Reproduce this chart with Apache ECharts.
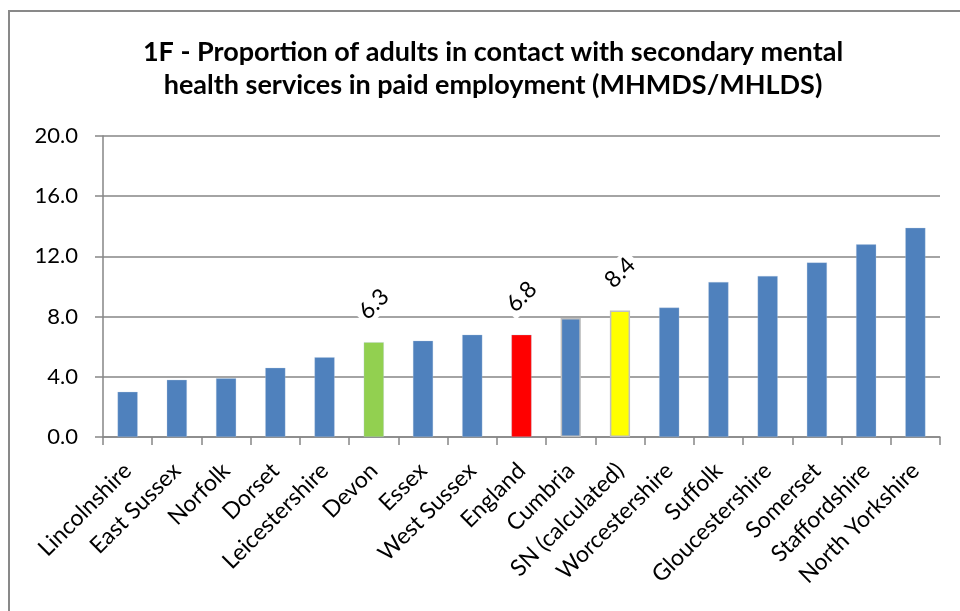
<!DOCTYPE html>
<html>
<head>
<meta charset="utf-8">
<script src="https://cdn.jsdelivr.net/npm/echarts@6/dist/echarts.min.js"></script>
<style>
  html, body { margin: 0; padding: 0; background: #fff; }
  #chart { width: 960px; height: 611px; }
</style>
</head>
<body>
<div id="chart"></div>
<script>
// Areas, ordered by value
const categories = [
  'Lincolnshire', 'East Sussex', 'Norfolk', 'Dorset', 'Leicestershire',
  'Devon', 'Essex', 'West Sussex', 'England', 'Cumbria', 'SN (calculated)',
  'Worcestershire', 'Suffolk', 'Gloucestershire', 'Somerset',
  'Staffordshire', 'North Yorkshire'
];
// Percentage of adults in contact with secondary mental health services in paid employment
const values = [3.0, 3.8, 3.9, 4.6, 5.3, 6.3, 6.4, 6.8, 6.8, 7.9, 8.4, 8.6, 10.3, 10.7, 11.6, 12.8, 13.9];
const yTicks = [0, 4, 8, 12, 16, 20];

const FONT = 'Lato, "Open Sans", sans-serif';
const baseColour = '#4F81BD';
const fillFor = { 'Devon': '#92D050', 'England': '#FF0000', 'SN (calculated)': '#FFFF00' };
const outlined = ['Cumbria', 'SN (calculated)'];
const labelled = ['Devon', 'England', 'SN (calculated)'];

const barData = categories.map((name, i) => {
  const item = {
    value: values[i],
    itemStyle: {
      color: fillFor[name] || baseColour,
      borderColor: outlined.includes(name) ? '#BFBFBF' : 'rgba(185,205,229,0.6)',
      borderWidth: outlined.includes(name) ? 1.5 : 0.5
    }
  };
  if (labelled.includes(name)) {
    item.label = {
      show: true,
      position: 'top',
      distance: 38,
      rotate: 45,
      align: 'center',
      verticalAlign: 'middle',
      formatter: p => p.value.toFixed(1),
      fontFamily: FONT,
      fontSize: 23,
      color: '#000',
      backgroundColor: '#fff',
      padding: [1, 4]
    };
  }
  return item;
});

const chart = echarts.init(document.getElementById('chart'), null, { renderer: 'canvas' });
chart.setOption({
  animation: false,
  backgroundColor: '#fff',
  title: {
    text: '1F - Proportion of adults in contact with secondary mental\nhealth services in paid employment (MHMDS/MHLDS)',
    left: 488,
    top: 31,
    textAlign: 'center',
    textStyle: {
      fontFamily: FONT,
      fontSize: 27,
      fontWeight: 'bold',
      lineHeight: 33,
      color: '#000'
    }
  },
  graphic: [{
    type: 'rect',
    shape: { x: 9, y: 11, width: 1000, height: 700 },
    style: { fill: 'none', stroke: '#898989', lineWidth: 2 },
    silent: true
  }],
  grid: { left: 103, right: 20, top: 136, bottom: 174, containLabel: false },
  xAxis: {
    type: 'category',
    data: categories,
    axisLine: { lineStyle: { color: '#868686', width: 1.5 } },
    axisTick: { show: true, length: 8, lineStyle: { color: '#868686', width: 1.5 } },
    axisLabel: {
      interval: 0,
      rotate: 45,
      margin: 30,
      fontFamily: FONT,
      fontSize: 23,
      color: '#000'
    }
  },
  yAxis: {
    type: 'value',
    min: yTicks[0],
    max: yTicks[yTicks.length - 1],
    interval: yTicks[1] - yTicks[0],
    axisLine: { show: true, lineStyle: { color: '#868686', width: 1.5 } },
    axisTick: { show: true, length: 8, lineStyle: { color: '#868686', width: 1.5 } },
    splitLine: { show: true, lineStyle: { color: '#868686', width: 1.5 } },
    axisLabel: {
      margin: 25,
      fontFamily: FONT,
      fontSize: 22,
      color: '#000',
      formatter: v => v.toFixed(1)
    }
  },
  series: [{
    type: 'bar',
    data: barData,
    barWidth: '41%'
  }]
});
</script>
</body>
</html>
